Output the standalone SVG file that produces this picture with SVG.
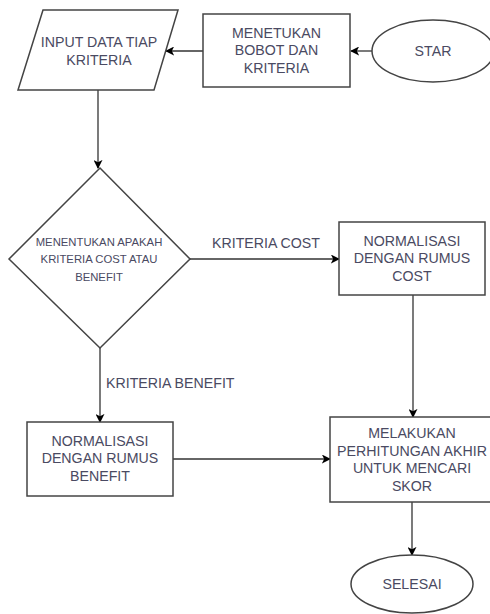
<svg xmlns="http://www.w3.org/2000/svg" width="490" height="614" viewBox="0 0 490 614">
<defs>
<marker id="arr" viewBox="0 0 10 10" refX="9" refY="5" markerWidth="9" markerHeight="9" markerUnits="userSpaceOnUse" orient="auto">
<path d="M0,0 L10,5 L0,10 L2.5,5 Z" fill="#000"/>
</marker>
<style>
.shape{fill:#fff;stroke:#444;stroke-width:1.5}
.t{font-family:"Liberation Sans",Arial,sans-serif;font-size:14.2px;fill:#4a4a62;text-anchor:middle}
.s{font-size:11.3px}
.c{fill:none;stroke:#333;stroke-width:1.3;marker-end:url(#arr)}
</style>
</defs>
<rect width="490" height="614" fill="#fff"/>
<g id="connectors">
<path class="c" d="M372,51 H351"/>
<path class="c" d="M203,51 H166"/>
<path class="c" d="M98,90 V168"/>
<path class="c" d="M190,259 H339"/>
<path class="c" d="M100,348 V422"/>
<path class="c" d="M413,295 V417"/>
<path class="c" d="M173,459 H330"/>
<path class="c" d="M412,502 V555"/>
<text class="t" x="266" y="248">KRITERIA COST</text>
<text class="t" x="106" y="388" style="text-anchor:start">KRITERIA BENEFIT</text>
</g>
<g id="star">
<ellipse class="shape" cx="433" cy="51" rx="61" ry="31"/>
<text class="t" x="433" y="56">STAR</text>
</g>
<g id="bobot">
<rect class="shape" x="203" y="14" width="147" height="73"/>
<text class="t" x="276.5" y="38">MENETUKAN</text>
<text class="t" x="276.5" y="55">BOBOT DAN</text>
<text class="t" x="276.5" y="73">KRITERIA</text>
</g>
<g id="input">
<polygon class="shape" points="43,10 178,10 154,90 18,90"/>
<text class="t" x="99" y="47">INPUT DATA TIAP</text>
<text class="t" x="99" y="65">KRITERIA</text>
</g>
<g id="decision">
<polygon class="shape" points="100,168 190,259 100,348 9,259"/>
<text class="t s" x="99" y="246">MENENTUKAN APAKAH</text>
<text class="t s" x="99" y="263">KRITERIA COST ATAU</text>
<text class="t s" x="99" y="281">BENEFIT</text>
</g>
<g id="cost">
<rect class="shape" x="339" y="222" width="146" height="73"/>
<text class="t" x="412" y="246">NORMALISASI</text>
<text class="t" x="412" y="263">DENGAN RUMUS</text>
<text class="t" x="412" y="281">COST</text>
</g>
<g id="benefit">
<rect class="shape" x="27" y="422" width="146" height="74"/>
<text class="t" x="100" y="446">NORMALISASI</text>
<text class="t" x="100" y="463">DENGAN RUMUS</text>
<text class="t" x="100" y="481">BENEFIT</text>
</g>
<g id="skor">
<rect class="shape" x="330" y="417" width="164" height="85"/>
<text class="t" x="412" y="438">MELAKUKAN</text>
<text class="t" x="412" y="456">PERHITUNGAN AKHIR</text>
<text class="t" x="412" y="473">UNTUK MENCARI</text>
<text class="t" x="412" y="491">SKOR</text>
</g>
<g id="selesai">
<ellipse class="shape" cx="412" cy="584" rx="61" ry="29"/>
<text class="t" x="412" y="589">SELESAI</text>
</g>
</svg>
